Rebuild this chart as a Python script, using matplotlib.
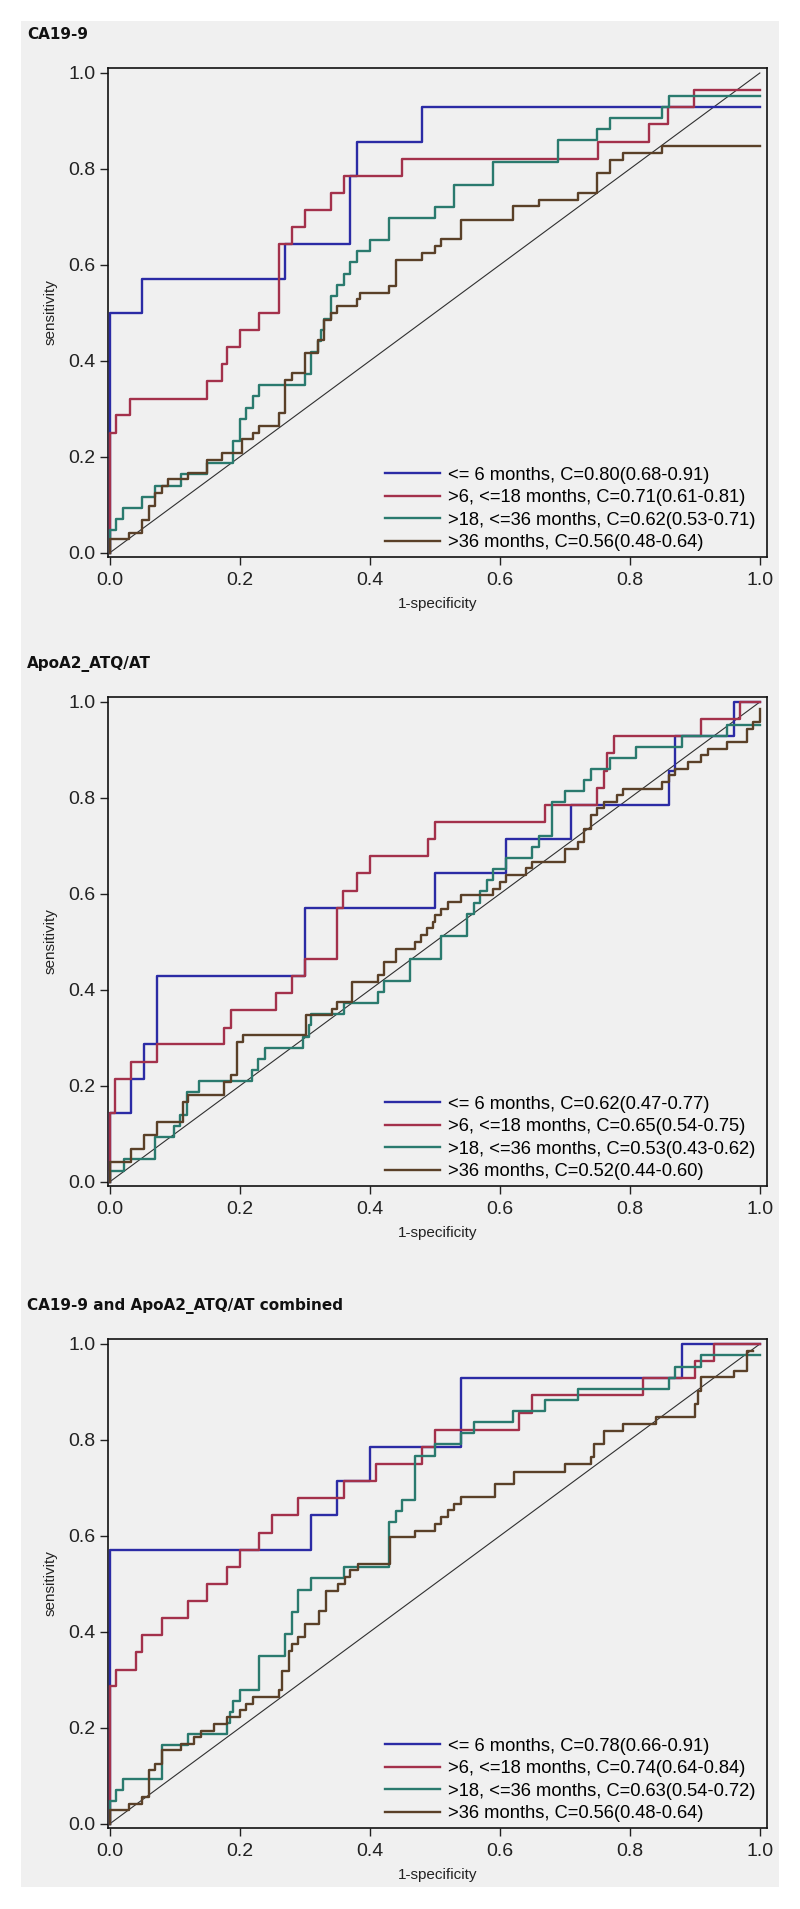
import matplotlib
matplotlib.use("Agg")
import matplotlib.pyplot as plt
from matplotlib.patches import Rectangle

plt.rcParams['font.family'] = ['Liberation Sans', 'DejaVu Sans']

# --- chart data: ROC corner points (1-specificity, sensitivity) per panel ---
panel_titles = ["CA19-9", "ApoA2_ATQ/AT", "CA19-9 and ApoA2_ATQ/AT combined"]
groups = ["<= 6 months", ">6, <=18 months", ">18, <=36 months", ">36 months"]

# C statistic (95% CI) text per panel, same order as groups
cstats_ca199 = ["0.80(0.68-0.91)", "0.71(0.61-0.81)", "0.62(0.53-0.71)", "0.56(0.48-0.64)"]
cstats_apoa2 = ["0.62(0.47-0.77)", "0.65(0.54-0.75)", "0.53(0.43-0.62)", "0.52(0.44-0.60)"]
cstats_comb = ["0.78(0.66-0.91)", "0.74(0.64-0.84)", "0.63(0.54-0.72)", "0.56(0.48-0.64)"]

# CA19-9
ca_fpr_6 = [0, 0, 0.05, 0.27, 0.37, 0.38, 0.48, 1.0]
ca_tpr_6 = [0, 0.5, 0.571, 0.643, 0.786, 0.857, 0.929, 0.929]
ca_fpr_18 = [0, 0, 0.009, 0.031, 0.149, 0.172, 0.18, 0.2, 0.23, 0.26, 0.28, 0.30, 0.34, 0.36,
             0.45, 0.751, 0.829, 0.858, 0.899, 1.0]
ca_tpr_18 = [0, 0.25, 0.286, 0.321, 0.357, 0.393, 0.429, 0.464, 0.5, 0.643, 0.679, 0.714, 0.75,
             0.786, 0.821, 0.857, 0.893, 0.929, 0.964, 0.964]
ca_fpr_36 = [0, 0, 0.009, 0.02, 0.05, 0.07, 0.11, 0.15, 0.19, 0.2, 0.21, 0.22, 0.23, 0.30, 0.309,
             0.32, 0.325, 0.33, 0.34, 0.35, 0.36, 0.37, 0.38, 0.40, 0.43, 0.50, 0.53, 0.59, 0.69,
             0.75, 0.77, 0.85, 0.86, 1.0]
ca_tpr_36 = [0, 0.047, 0.07, 0.093, 0.116, 0.14, 0.163, 0.186, 0.233, 0.279, 0.302, 0.326, 0.349,
             0.372, 0.419, 0.442, 0.465, 0.488, 0.535, 0.558, 0.581, 0.605, 0.628, 0.651, 0.698,
             0.721, 0.767, 0.814, 0.86, 0.884, 0.907, 0.93, 0.953, 0.953]
ca_fpr_gt36 = [0, 0, 0.03, 0.05, 0.06, 0.07, 0.08, 0.09, 0.12, 0.149, 0.172, 0.203, 0.22, 0.23,
               0.26, 0.27, 0.28, 0.30, 0.32, 0.33, 0.34, 0.35, 0.38, 0.385, 0.43, 0.44, 0.48, 0.50,
               0.51, 0.54, 0.62, 0.66, 0.72, 0.75, 0.77, 0.79, 0.85, 1.0]
ca_tpr_gt36 = [0, 0.028, 0.042, 0.069, 0.097, 0.125, 0.139, 0.153, 0.167, 0.194, 0.208, 0.236,
               0.25, 0.264, 0.292, 0.361, 0.375, 0.417, 0.444, 0.486, 0.5, 0.514, 0.528, 0.542,
               0.556, 0.611, 0.625, 0.639, 0.653, 0.694, 0.722, 0.736, 0.75, 0.792, 0.819, 0.833,
               0.847, 0.847]

# ApoA2_ATQ/AT
apo_fpr_6 = [0, 0, 0.032, 0.053, 0.072, 0.30, 0.50, 0.61, 0.71, 0.86, 0.87, 0.96, 1.0]
apo_tpr_6 = [0, 0.143, 0.214, 0.286, 0.429, 0.571, 0.643, 0.714, 0.786, 0.857, 0.929, 1.0, 1.0]
apo_fpr_18 = [0, 0, 0.008, 0.032, 0.072, 0.175, 0.186, 0.256, 0.28, 0.30, 0.35, 0.359, 0.38, 0.40,
              0.49, 0.50, 0.67, 0.75, 0.76, 0.765, 0.775, 0.91, 0.97, 1.0]
apo_tpr_18 = [0, 0.143, 0.214, 0.25, 0.286, 0.321, 0.357, 0.393, 0.429, 0.464, 0.571, 0.607,
              0.643, 0.679, 0.714, 0.75, 0.786, 0.821, 0.857, 0.893, 0.929, 0.964, 1.0, 1.0]
apo_fpr_36 = [0, 0, 0.022, 0.069, 0.098, 0.108, 0.119, 0.137, 0.218, 0.228, 0.238, 0.297, 0.307,
              0.31, 0.36, 0.412, 0.422, 0.461, 0.51, 0.55, 0.56, 0.57, 0.58, 0.59, 0.61, 0.65,
              0.66, 0.68, 0.70, 0.73, 0.74, 0.77, 0.81, 0.88, 0.95, 1.0]
apo_tpr_36 = [0, 0.023, 0.047, 0.093, 0.116, 0.14, 0.186, 0.209, 0.233, 0.256, 0.279, 0.302,
              0.326, 0.349, 0.372, 0.395, 0.419, 0.465, 0.512, 0.558, 0.581, 0.605, 0.628, 0.651,
              0.674, 0.698, 0.721, 0.791, 0.814, 0.837, 0.86, 0.884, 0.907, 0.93, 0.953, 0.953]
apo_fpr_gt36 = [0, 0, 0.032, 0.053, 0.072, 0.112, 0.12, 0.175, 0.186, 0.195, 0.205, 0.302, 0.341,
                0.35, 0.372, 0.412, 0.422, 0.44, 0.469, 0.478, 0.488, 0.497, 0.50, 0.51, 0.52,
                0.54, 0.59, 0.60, 0.61, 0.64, 0.65, 0.70, 0.72, 0.73, 0.74, 0.75, 0.76, 0.78, 0.79,
                0.85, 0.86, 0.87, 0.89, 0.91, 0.92, 0.95, 0.98, 0.99, 1.0]
apo_tpr_gt36 = [0, 0.042, 0.069, 0.097, 0.125, 0.167, 0.181, 0.208, 0.222, 0.292, 0.306, 0.347,
                0.361, 0.375, 0.417, 0.431, 0.458, 0.486, 0.5, 0.514, 0.528, 0.542, 0.556, 0.569,
                0.583, 0.597, 0.611, 0.625, 0.639, 0.653, 0.667, 0.694, 0.708, 0.736, 0.764,
                0.778, 0.792, 0.806, 0.819, 0.833, 0.847, 0.861, 0.875, 0.889, 0.903, 0.917,
                0.944, 0.958, 0.986]

# combined marker
cb_fpr_6 = [0, 0, 0.31, 0.35, 0.40, 0.54, 0.88, 1.0]
cb_tpr_6 = [0, 0.571, 0.643, 0.714, 0.786, 0.929, 1.0, 1.0]
cb_fpr_18 = [0, 0, 0.01, 0.04, 0.05, 0.08, 0.12, 0.15, 0.18, 0.20, 0.23, 0.25, 0.29, 0.36, 0.41,
             0.48, 0.50, 0.63, 0.65, 0.82, 0.90, 0.93, 1.0]
cb_tpr_18 = [0, 0.286, 0.321, 0.357, 0.393, 0.429, 0.464, 0.5, 0.536, 0.571, 0.607, 0.643, 0.679,
             0.714, 0.75, 0.786, 0.821, 0.857, 0.893, 0.929, 0.964, 1.0, 1.0]
cb_fpr_36 = [0, 0, 0.01, 0.02, 0.08, 0.12, 0.18, 0.185, 0.19, 0.20, 0.23, 0.27, 0.28, 0.29, 0.31,
             0.36, 0.43, 0.44, 0.45, 0.47, 0.50, 0.54, 0.56, 0.62, 0.67, 0.72, 0.86, 0.87, 0.91, 1.0]
cb_tpr_36 = [0, 0.047, 0.07, 0.093, 0.163, 0.186, 0.209, 0.233, 0.256, 0.279, 0.349, 0.395, 0.442,
             0.488, 0.512, 0.535, 0.628, 0.651, 0.674, 0.767, 0.791, 0.814, 0.837, 0.86, 0.884,
             0.907, 0.93, 0.953, 0.977, 0.977]
cb_fpr_gt36 = [0, 0, 0.03, 0.05, 0.06, 0.07, 0.08, 0.11, 0.13, 0.14, 0.16, 0.18, 0.20, 0.21, 0.22,
               0.26, 0.265, 0.275, 0.28, 0.29, 0.30, 0.322, 0.332, 0.351, 0.362, 0.37, 0.382, 0.431,
               0.469, 0.50, 0.51, 0.52, 0.53, 0.54, 0.593, 0.622, 0.70, 0.74, 0.745, 0.76, 0.79,
               0.84, 0.90, 0.905, 0.91, 0.96, 0.98, 0.99]
cb_tpr_gt36 = [0, 0.028, 0.042, 0.056, 0.111, 0.125, 0.153, 0.167, 0.181, 0.194, 0.208, 0.222,
               0.236, 0.25, 0.264, 0.278, 0.319, 0.361, 0.375, 0.389, 0.417, 0.444, 0.486, 0.5,
               0.514, 0.528, 0.542, 0.597, 0.611, 0.625, 0.639, 0.653, 0.667, 0.681, 0.708, 0.733,
               0.75, 0.764, 0.792, 0.819, 0.833, 0.847, 0.875, 0.903, 0.931, 0.944, 0.986, 0.986]

panels = [
    (panel_titles[0], cstats_ca199,
     [(ca_fpr_6, ca_tpr_6), (ca_fpr_18, ca_tpr_18), (ca_fpr_36, ca_tpr_36), (ca_fpr_gt36, ca_tpr_gt36)]),
    (panel_titles[1], cstats_apoa2,
     [(apo_fpr_6, apo_tpr_6), (apo_fpr_18, apo_tpr_18), (apo_fpr_36, apo_tpr_36), (apo_fpr_gt36, apo_tpr_gt36)]),
    (panel_titles[2], cstats_comb,
     [(cb_fpr_6, cb_tpr_6), (cb_fpr_18, cb_tpr_18), (cb_fpr_36, cb_tpr_36), (cb_fpr_gt36, cb_tpr_gt36)]),
]

colors = ["#2b2ba5", "#a3314b", "#2a7a6e", "#5a4028"]
bg = "#f0f0f0"

# --- figure: 800 x 1909 px ---
W, H = 800, 1909
fig = plt.figure(figsize=(W / 100, H / 100), dpi=100, facecolor="white")
# light gray panel behind everything (negative zorder so the axes sit on top)
fig.patches.append(Rectangle((21 / W, 1 - 1887 / H), 758 / W, 1866 / H,
                             transform=fig.transFigure, facecolor=bg, edgecolor="none", zorder=-5))

ax_left, ax_right = 108, 767           # pixel edges of the plot boxes
ax_tops = [68, 697, 1339]               # pixel top edge of each box
box_h = 489

for (title, cstats, curves), top in zip(panels, ax_tops):
    ax = fig.add_axes([ax_left / W, 1 - (top + box_h) / H, (ax_right - ax_left) / W, box_h / H])
    ax.set_facecolor(bg)
    ax.set_xlim(-0.003, 1.011)
    ax.set_ylim(-0.009, 1.0104)

    # chance diagonal
    ax.plot([0, 1], [0, 1], color="#303030", lw=0.8, zorder=2)

    for (fpr, tpr), col, grp, cs in zip(curves, colors, groups, cstats):
        ax.plot(fpr, tpr, drawstyle="steps-post", color=col, lw=1.7,
                label=f"{grp}, C={cs}", zorder=3)

    ax.set_xticks([0, 0.2, 0.4, 0.6, 0.8, 1.0])
    ax.set_yticks([0, 0.2, 0.4, 0.6, 0.8, 1.0])
    ax.set_xticklabels(["0.0", "0.2", "0.4", "0.6", "0.8", "1.0"])
    ax.set_yticklabels(["0.0", "0.2", "0.4", "0.6", "0.8", "1.0"])
    ax.tick_params(axis="both", direction="out", length=6, width=1, colors="#222222",
                   labelsize=14)
    ax.tick_params(axis="x", pad=5)
    ax.tick_params(axis="y", pad=3)
    for sp in ax.spines.values():
        sp.set_linewidth(1.2)
        sp.set_color("#111111")

    ax.set_xlabel("1-specificity", fontsize=11, color="#222222")
    ax.set_ylabel("sensitivity", fontsize=11, color="#222222")
    ax.xaxis.set_label_coords(0.5, -0.096)
    ax.xaxis.label.set_va("center")
    ax.yaxis.set_label_coords(-0.0865, 0.5)
    ax.yaxis.label.set_va("center")

    ax.legend(loc="lower left", bbox_to_anchor=(0.42, 0.012), frameon=False, fontsize=13.2,
              handlelength=3.0, handletextpad=0.45, labelspacing=0.30, borderpad=0,
              borderaxespad=0)

    # bold panel heading above the box
    fig.text(27 / W, 1 - (top - 29) / H, title, fontsize=11, fontweight="bold",
             family=["DejaVu Sans"], va="baseline", ha="left", color="#111111")

fig.savefig("out.png", dpi=100, facecolor="white")
